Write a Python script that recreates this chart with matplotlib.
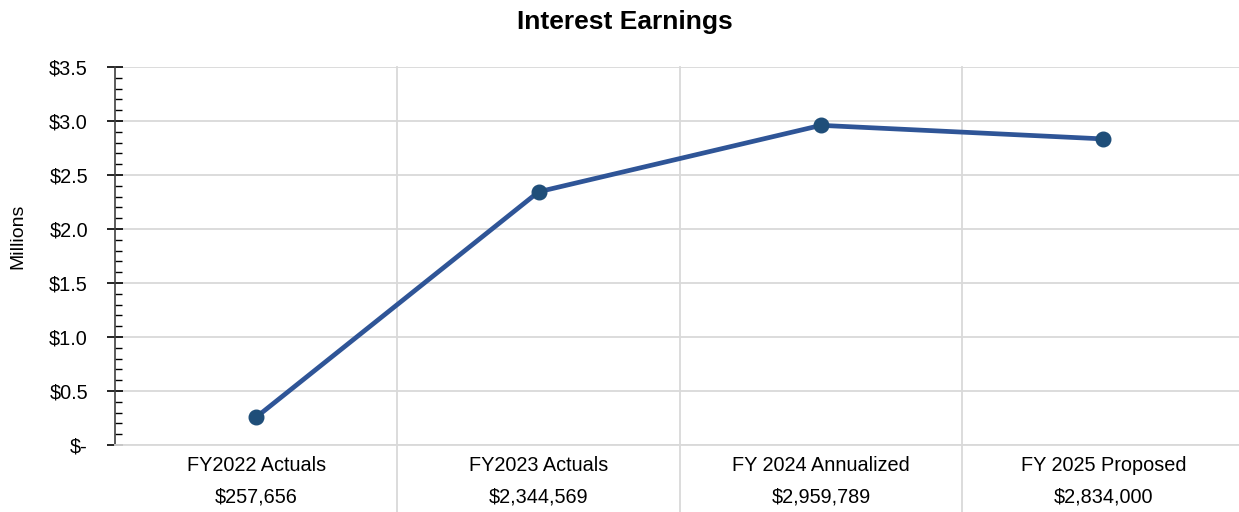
import matplotlib
matplotlib.use("Agg")
import matplotlib.pyplot as plt
from matplotlib.ticker import MultipleLocator, FuncFormatter

plt.rcParams["font.family"] = ["Liberation Sans Narrow", "Liberation Sans", "DejaVu Sans"]

CATEGORIES = ["FY2022 Actuals", "FY2023 Actuals", "FY 2024 Annualized", "FY 2025 Proposed"]
EARNINGS = [257656, 2344569, 2959789, 2834000]

LINE = "#2f5597"
MARKER = "#1f4e79"
GRID = "#d9d9d9"

fig = plt.figure(figsize=(12.39, 5.12), dpi=100)
W, H = 1239, 512
ax = fig.add_axes([115 / W, 1 - 445 / H, (1239 - 115) / W, (445 - 67) / H])

xs = list(range(len(CATEGORIES)))
millions = [v / 1e6 for v in EARNINGS]
ax.plot(xs, millions, color=LINE, lw=3.4, marker="o", ms=10.5,
        markerfacecolor=MARKER, markeredgecolor=MARKER, zorder=3)

ax.set_xlim(-0.5, 3.48)
ax.set_ylim(0, 3.5)
ax.yaxis.set_major_locator(MultipleLocator(0.5))
ax.yaxis.set_minor_locator(MultipleLocator(0.1))
ax.yaxis.set_major_formatter(FuncFormatter(lambda v, p: "$-" if abs(v) < 1e-9 else f"${v:.1f}"))
ax.grid(axis="y", color=GRID, lw=1.3)
ax.set_axisbelow(True)

# category boundaries run down through the label rows
for b in [i + 0.5 for i in xs[:-1]]:
    ax.axvline(b, ymin=-0.2, ymax=1, color=GRID, lw=1.3, clip_on=False, zorder=0)

ax.set_xticks(xs)
ax.set_xticklabels([f"{c}\n${v:,.0f}" for c, v in zip(CATEGORIES, EARNINGS)],
                   fontsize=14.3, linespacing=1.85)
ax.tick_params(axis="x", length=0, pad=8)
ax.tick_params(axis="y", which="major", direction="inout", length=11, width=1.2,
               labelsize=14.3, pad=14)
ax.tick_params(axis="y", which="minor", direction="in", length=5, width=1)

for s in ["top", "right"]:
    ax.spines[s].set_visible(False)
ax.spines["bottom"].set_color(GRID)
ax.spines["bottom"].set_linewidth(1.3)
ax.spines["left"].set_color("#404040")
ax.spines["left"].set_linewidth(1.2)

fig.text(18 / W, 1 - 236 / H, "Millions", rotation=90, ha="center", va="center", fontsize=14)
fig.text(625 / W, 1 - 22 / H, "Interest Earnings", ha="center", va="center",
         fontsize=19, fontweight="bold")

fig.savefig("out.png", dpi=100)
